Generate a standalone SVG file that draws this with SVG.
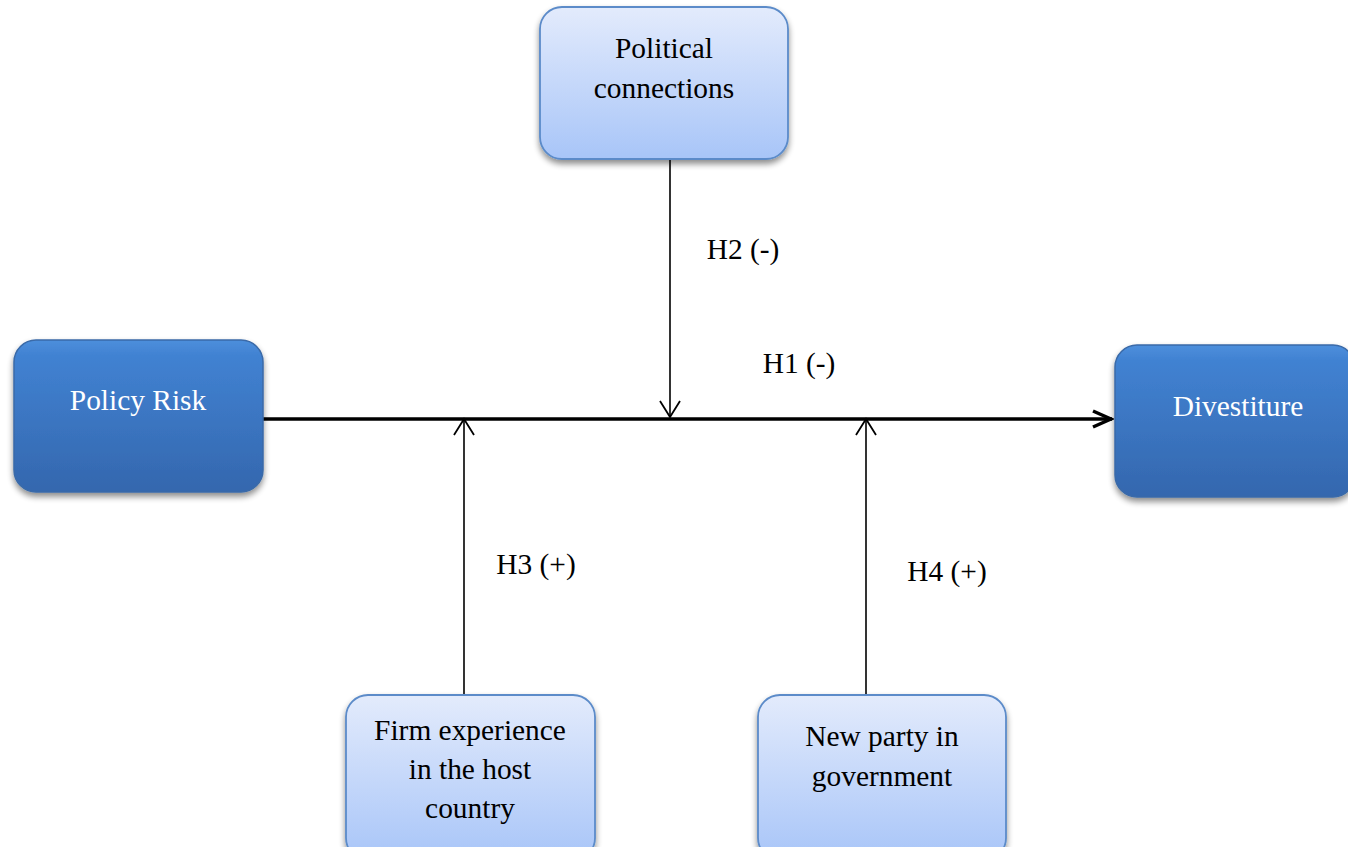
<svg xmlns="http://www.w3.org/2000/svg" width="1348" height="847" viewBox="0 0 1348 847">
<defs>
<linearGradient id="gDark" x1="0" y1="0" x2="0" y2="1">
<stop offset="0" stop-color="#4d8fdc"/>
<stop offset="0.1" stop-color="#4182d2"/>
<stop offset="1" stop-color="#3467ae"/>
</linearGradient>
<linearGradient id="gLight" x1="0" y1="0" x2="0" y2="1">
<stop offset="0" stop-color="#e3ebfc"/>
<stop offset="1" stop-color="#a8c5f8"/>
</linearGradient>
<filter id="sh" x="-10%" y="-10%" width="120%" height="130%">
<feGaussianBlur in="SourceAlpha" stdDeviation="3"/>
<feOffset dx="0" dy="4"/>
<feComponentTransfer><feFuncA type="linear" slope="0.45"/></feComponentTransfer>
<feMerge><feMergeNode/><feMergeNode in="SourceGraphic"/></feMerge>
</filter>
<marker id="arr" viewBox="0 0 20 22" refX="18" refY="11" markerWidth="20" markerHeight="22" markerUnits="userSpaceOnUse" orient="auto">
<path d="M2,1 L18,11 L2,21" fill="none" stroke="#000" stroke-width="1.8"/>
</marker>
<marker id="arrBig" viewBox="0 0 24 24" refX="22" refY="12" markerWidth="24" markerHeight="24" markerUnits="userSpaceOnUse" orient="auto">
<path d="M3,4 L21,12 L3,20" fill="none" stroke="#000" stroke-width="3.5"/>
</marker>
</defs>
<style>
.dark{fill:url(#gDark);stroke:#3a6aa8;stroke-width:1.5}
.light{fill:url(#gLight);stroke:#5b8bc9;stroke-width:1.8}
.t{font-family:"Liberation Serif","Times New Roman",serif;font-size:29.4px;text-anchor:middle}
.tw{fill:#ffffff}
.tb{fill:#000000}
.c{stroke:#000;fill:none}
</style>
<rect width="1348" height="847" fill="#ffffff"/>
<g id="connectors">
<line class="c" x1="263" y1="419" x2="1112" y2="419" stroke-width="3.5" marker-end="url(#arrBig)"/>
<line class="c" x1="670" y1="159" x2="670" y2="417" stroke-width="1.6" marker-end="url(#arr)"/>
<line class="c" x1="464" y1="695" x2="464" y2="419" stroke-width="1.6" marker-end="url(#arr)"/>
<line class="c" x1="866" y1="695" x2="866" y2="419" stroke-width="1.6" marker-end="url(#arr)"/>
<text class="t tb" x="743" y="259">H2 (-)</text>
<text class="t tb" x="799" y="373">H1 (-)</text>
<text class="t tb" x="536" y="574">H3 (+)</text>
<text class="t tb" x="947" y="581">H4 (+)</text>
</g>
<g id="policy-risk">
<rect class="dark" x="14" y="340" width="249" height="152" rx="22" filter="url(#sh)"/>
<text class="t tw" x="138" y="410">Policy Risk</text>
</g>
<g id="divestiture">
<rect class="dark" x="1115" y="345" width="240" height="152" rx="22" filter="url(#sh)"/>
<text class="t tw" x="1238" y="416">Divestiture</text>
</g>
<g id="political-connections">
<rect class="light" x="540" y="7" width="248" height="152" rx="22" filter="url(#sh)"/>
<text class="t tb" x="664" y="58">Political</text>
<text class="t tb" x="664" y="98">connections</text>
</g>
<g id="firm-experience">
<rect class="light" x="346" y="695" width="249" height="165" rx="22" filter="url(#sh)"/>
<text class="t tb" x="470" y="740">Firm experience</text>
<text class="t tb" x="470" y="779">in the host</text>
<text class="t tb" x="470" y="818">country</text>
</g>
<g id="new-party">
<rect class="light" x="758" y="695" width="248" height="165" rx="22" filter="url(#sh)"/>
<text class="t tb" x="882" y="746">New party in</text>
<text class="t tb" x="882" y="786">government</text>
</g>
</svg>
